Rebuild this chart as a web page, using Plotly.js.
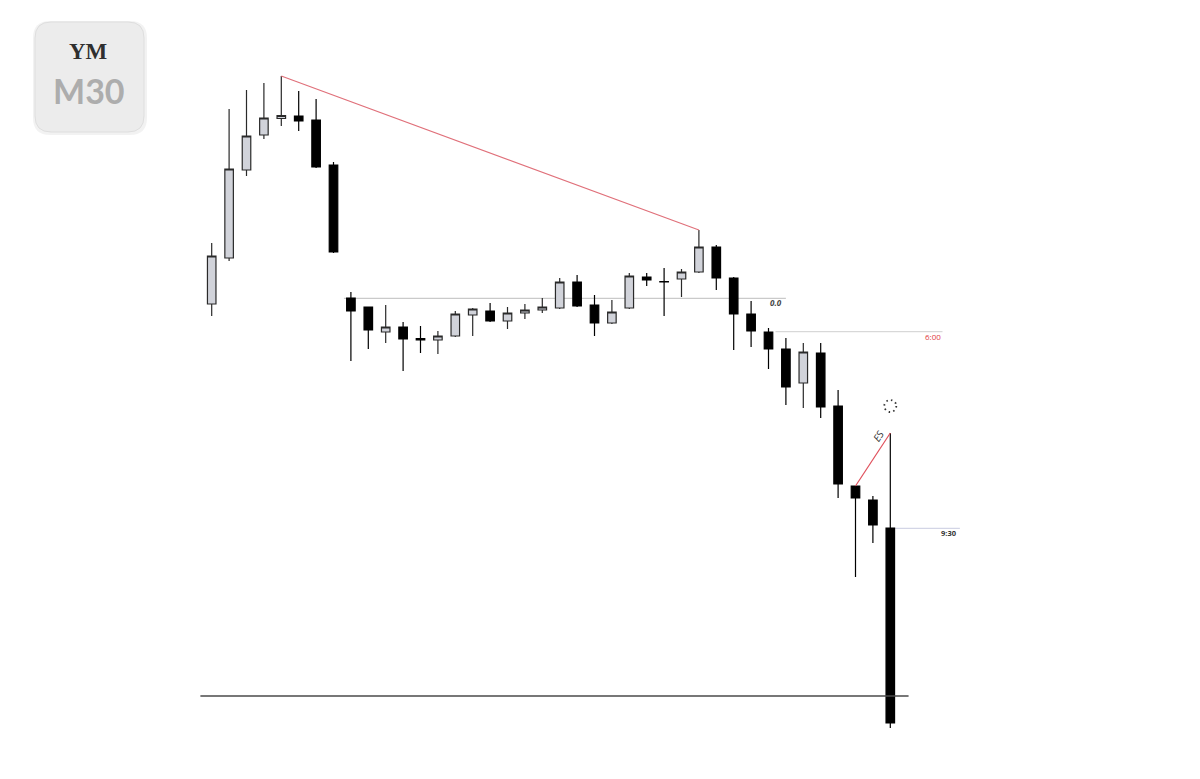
<!DOCTYPE html>
<html>
<head>
<meta charset="utf-8">
<script src="https://cdn.plot.ly/plotly-3.0.1.min.js"></script>
<style>
  html, body { margin: 0; padding: 0; background: #ffffff; }
  #chart { width: 1200px; height: 779px; }
</style>
</head>
<body>
<div id="chart"></div>
<script>
// ---- Data (price units) ----
const barIndex = [0,1,2,3,4,5,6,7,8,9,10,11,12,13,14,15,16,17,18,19,20,21,22,23,24,25,26,27,28,29,30,31,32,33,34,35,36,37,38,39];
const openP  = [475,521,609,644,660.5,663,659,614,481,472,447,452,440.5,439,443,464,468,458,466,469,471,497,474,456,471,502,497.5,500,507,532,501,465,447,430,396,426,373,293,279,251];
const highP  = [536,670,689,696,703,688,680,617,487,472,474,457,453,448,468,471,476,472,475,481,501,504,484,479,506,506,511,510,549,534,502,478,451,441,436,436,389,293.5,283,346];
const lowP   = [463,518,603,640,653,648,611,526,418,430,436,408,426,425,442,443,457,450,460,466,470,472,443,455,470,493,463,482,506,489,429,432,410,374,371,361,281,202,236,51];
const closeP = [523,610,643,661,663.5,658,612,527,468,449,452,440,439,443,465,470,458,466,469,472,497,473,456,467,503,499,497,507,532,501,465,448,430,392,427,372,295,281,254,56];

// Annotation lines [x0, y0, x1, y1]
const highTrendLine = [4, 703, 28, 549];
const esLine        = [37, 293, 39, 346];
const levelZero     = [7.6, 480.7, 33.0];   // x0, price, x1
const level600      = [32.4, 447.3, 42.0];
const level930      = [39.0, 250.7, 43.0];
const bottomLevel   = [-0.65, 83, 40.05];
const dottedMark    = [39.0, 373];
const labels = ["0.0", "6:00", "9:30", "ES"];

const trace = {
  type: 'candlestick',
  x: barIndex,
  open: openP, high: highP, low: lowP, close: closeP,
  increasing: { line: { color: '#2a2a2a', width: 1.2 }, fillcolor: '#d1d3da' },
  decreasing: { line: { color: '#000000', width: 1.2 }, fillcolor: '#000000' },
  whiskerwidth: 0,
  hoverinfo: 'none',
  showlegend: false
};

function hline(v, color, width) {
  return { type: 'line', xref: 'x', yref: 'y', x0: v[0], x1: v[2], y0: v[1], y1: v[1],
           line: { color: color, width: width }, layer: 'below' };
}

// Rounded badge path in paper coordinates
const W = 1200, H = 779;
function px(x) { return x / W; }
function py(y) { return 1 - y / H; }
function f(v) { return v.toFixed(5); }
function roundRect(x0, y0, x1, y1, r) {
  return 'M ' + f(px(x0 + r)) + ' ' + f(py(y0)) +
    ' L ' + f(px(x1 - r)) + ' ' + f(py(y0)) +
    ' Q ' + f(px(x1)) + ' ' + f(py(y0)) + ' ' + f(px(x1)) + ' ' + f(py(y0 + r)) +
    ' L ' + f(px(x1)) + ' ' + f(py(y1 - r)) +
    ' Q ' + f(px(x1)) + ' ' + f(py(y1)) + ' ' + f(px(x1 - r)) + ' ' + f(py(y1)) +
    ' L ' + f(px(x0 + r)) + ' ' + f(py(y1)) +
    ' Q ' + f(px(x0)) + ' ' + f(py(y1)) + ' ' + f(px(x0)) + ' ' + f(py(y1 - r)) +
    ' L ' + f(px(x0)) + ' ' + f(py(y0 + r)) +
    ' Q ' + f(px(x0)) + ' ' + f(py(y0)) + ' ' + f(px(x0 + r)) + ' ' + f(py(y0)) + ' Z';
}

const shapes = [
  // badge shadow + badge
  { type: 'path', xref: 'paper', yref: 'paper', path: roundRect(33, 21, 147, 135, 17),
    fillcolor: 'rgba(0,0,0,0.05)', line: { width: 0 }, layer: 'below' },
  { type: 'path', xref: 'paper', yref: 'paper', path: roundRect(35, 22, 144, 132, 16),
    fillcolor: '#ececec', line: { color: '#dedede', width: 1 }, layer: 'below' },
  hline(levelZero, '#bdbdbd', 1),
  hline(level600, '#cfcfcf', 1),
  hline(level930, '#c9cbe0', 1),
  { type: 'line', xref: 'x', yref: 'y', x0: bottomLevel[0], x1: bottomLevel[2], y0: bottomLevel[1], y1: bottomLevel[1],
    line: { color: '#4a4a4a', width: 1.5 }, layer: 'above' },
  { type: 'line', xref: 'x', yref: 'y', x0: highTrendLine[0], y0: highTrendLine[1], x1: highTrendLine[2], y1: highTrendLine[3],
    line: { color: '#e0707a', width: 1.2 }, layer: 'above' },
  { type: 'line', xref: 'x', yref: 'y', x0: esLine[0], y0: esLine[1], x1: esLine[2], y1: esLine[3],
    line: { color: '#e0505c', width: 1.2 }, layer: 'above' },
  { type: 'circle', xref: 'x', yref: 'y', xsizemode: 'pixel', ysizemode: 'pixel',
    xanchor: dottedMark[0], yanchor: dottedMark[1], x0: -6, x1: 6, y0: -6, y1: 6,
    line: { color: '#333333', width: 1.8, dash: '1.5px,3.2px' }, fillcolor: 'rgba(0,0,0,0)' }
];

const annotations = [
  { xref: 'paper', yref: 'paper', x: px(88), y: py(51), xanchor: 'center', yanchor: 'middle',
    text: '<b>YM</b>', showarrow: false,
    font: { family: 'Liberation Serif, DejaVu Serif, serif', size: 23, color: '#2f2f2f' } },
  { xref: 'paper', yref: 'paper', x: px(89), y: py(90), xanchor: 'center', yanchor: 'middle',
    text: '<b>M30</b>', showarrow: false,
    font: { family: 'Lato, Noto Sans, sans-serif', size: 34, color: '#adadad' } },
  { xref: 'x', yref: 'y', x: 32.45, y: 476.5, xanchor: 'center', yanchor: 'middle',
    text: '<b><i>' + labels[0] + '</i></b>', showarrow: false,
    font: { family: 'Open Sans, DejaVu Sans, sans-serif', size: 8, color: '#444' } },
  { xref: 'x', yref: 'y', x: 41.45, y: 442.3, xanchor: 'center', yanchor: 'middle',
    text: labels[1], showarrow: false,
    font: { family: 'Open Sans, DejaVu Sans, sans-serif', size: 8, color: '#e03a44' } },
  { xref: 'x', yref: 'y', x: 42.37, y: 245.7, xanchor: 'center', yanchor: 'middle',
    text: '<b>' + labels[2] + '</b>', showarrow: false,
    font: { family: 'Open Sans, DejaVu Sans, sans-serif', size: 7.5, color: '#333' } },
  { xref: 'x', yref: 'y', x: 38.3, y: 343, xanchor: 'center', yanchor: 'middle',
    text: '<i>' + labels[3] + '</i>', showarrow: false, textangle: -57,
    font: { family: 'Open Sans, DejaVu Sans, sans-serif', size: 10, color: '#333' } }
];

const layout = {
  width: 1200, height: 779,
  margin: { l: 0, r: 0, t: 0, b: 0, pad: 0 },
  paper_bgcolor: '#ffffff', plot_bgcolor: '#ffffff',
  xaxis: { range: [-12.167, 56.799], visible: false, showgrid: false, zeroline: false,
           rangeslider: { visible: false }, fixedrange: true },
  yaxis: { range: [0, 779], visible: false, showgrid: false, zeroline: false, fixedrange: true },
  shapes: shapes,
  annotations: annotations,
  showlegend: false,
  hovermode: false
};

Plotly.newPlot('chart', [trace], layout, { displayModeBar: false, staticPlot: true });
</script>
</body>
</html>
